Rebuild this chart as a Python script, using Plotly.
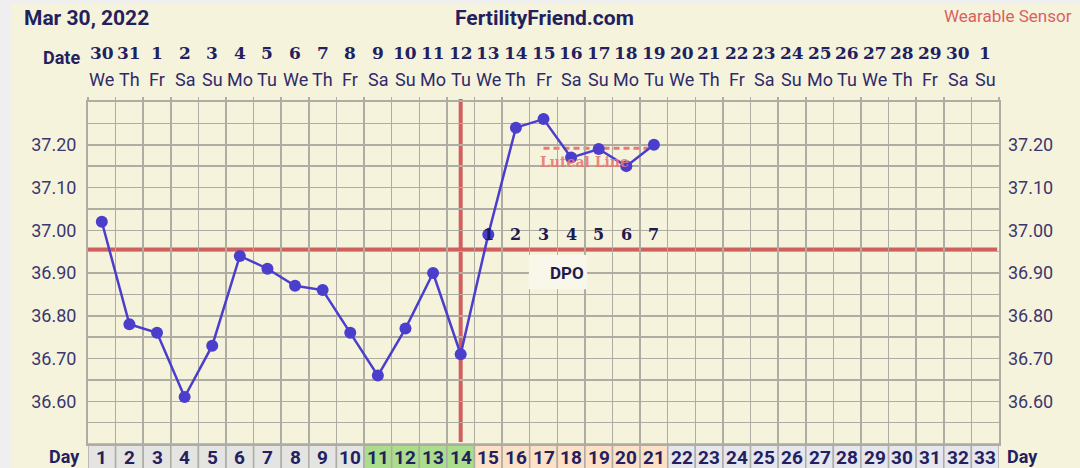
import plotly.graph_objects as go

# ---------------- data ----------------
chart_date = "Mar 30, 2022"
site_title = "FertilityFriend.com"
sensor_label = "Wearable Sensor"

cycle_days = list(range(1, 34))
date_numbers = [30, 31] + list(range(1, 31)) + [1]
weekday_cycle = ["We", "Th", "Fr", "Sa", "Su", "Mo", "Tu"]
weekdays = [weekday_cycle[i % 7] for i in range(33)]

temp_days = list(range(1, 22))
temps = [37.02, 36.78, 36.76, 36.61, 36.73, 36.94, 36.91, 36.87, 36.86, 36.76,
         36.66, 36.77, 36.90, 36.71, 36.99, 37.24, 37.26, 37.17, 37.19, 37.15, 37.20]

coverline_temp = 36.955
ovulation_day = 14
dpo_days = [15, 16, 17, 18, 19, 20, 21]
dpo_labels = ["1", "2", "3", "4", "5", "6", "7"]
luteal_start, luteal_end, luteal_temp = 17, 20.8, 37.192

phase_fertile = [11, 12, 13, 14]
phase_luteal = [15, 16, 17, 18, 19, 20, 21]

ytick_vals = [36.60, 36.70, 36.80, 36.90, 37.00, 37.10, 37.20]
ytick_text = [f"{v:.2f}" for v in ytick_vals]
y_range = [36.5, 37.3]

# ---------------- styling ----------------
W, H = 1080, 468
L, R, T, B = 88, 81, 102, 24
PW, PH = W - L - R, H - T - B
CREAM = "#f6f3dd"
NAVY = "#241f5e"
TICKNAVY = "#3b376d"
GRID = "#aeaca3"
RED = "#d0605e"
LINE = "#4b3ecd"
SANS = "Roboto"
SERIF = "DejaVu Serif"


def px_x(X):
    return (X - L) / PW


def px_y(Y):
    return (H - B - Y) / PH


fig = go.Figure()

fig.add_trace(go.Scatter(
    x=temp_days, y=temps, mode="lines+markers",
    line=dict(color=LINE, width=2.5),
    marker=dict(color=LINE, size=12),
    hoverinfo="skip", showlegend=False, cliponaxis=False,
))
# invisible trace to activate the mirrored axes (right labels, top ticks)
fig.add_trace(go.Scatter(
    x=temp_days, y=temps, xaxis="x2", yaxis="y2", mode="markers",
    marker=dict(opacity=0), hoverinfo="skip", showlegend=False,
))

shapes = []
# cream panel
shapes.append(dict(type="rect", xref="paper", yref="paper",
                   x0=px_x(12), x1=px_x(W + 20), y0=px_y(H + 20), y1=px_y(3),
                   fillcolor=CREAM, line=dict(width=0), layer="below"))

# day row cells
for d in cycle_days:
    if d in phase_fertile:
        col = "#aadd8c"
    elif d in phase_luteal:
        col = "#fde1c7"
    elif d > max(phase_luteal):
        col = "#e6e6ee"
    else:
        col = "#e4e4e2"
    shapes.append(dict(type="rect", xref="x", yref="paper",
                       x0=d - 0.5, x1=d + 0.5, y0=px_y(H + 10), y1=0,
                       fillcolor=col, line=dict(color=GRID, width=1.5), layer="below"))

# coverline
shapes.append(dict(type="line", xref="paper", yref="y", x0=0, x1=0.998,
                   y0=coverline_temp, y1=coverline_temp,
                   line=dict(color=RED, width=4), layer="below"))
# ovulation line
shapes.append(dict(type="line", xref="x", yref="paper", x0=ovulation_day, x1=ovulation_day,
                   y0=px_y(442), y1=px_y(99),
                   line=dict(color=RED, width=4), layer="below"))
# luteal line
shapes.append(dict(type="line", xref="x", yref="y", x0=luteal_start, x1=luteal_end,
                   y0=luteal_temp, y1=luteal_temp,
                   line=dict(color="#e77a74", width=3, dash="6px,4px"), layer="below"))
# DPO box
shapes.append(dict(type="rect", xref="x", yref="y", x0=16.47, x1=18.58,
                   y0=36.862, y1=36.942, fillcolor="#f9f7e9",
                   line=dict(width=0), layer="above"))

ann = []
# header
ann.append(dict(text=f"<b>{chart_date}</b>", xref="paper", yref="paper",
                x=px_x(22), y=px_y(18), xanchor="left", yanchor="middle",
                showarrow=False, font=dict(family=SANS, size=21, color=NAVY)))
ann.append(dict(text=f"<b>{site_title}</b>", xref="paper", yref="paper",
                x=px_x(544), y=px_y(18), xanchor="center", yanchor="middle",
                showarrow=False, font=dict(family=SANS, size=21, color=NAVY)))
ann.append(dict(text=sensor_label, xref="paper", yref="paper",
                x=px_x(1074), y=px_y(16), xanchor="right", yanchor="middle",
                showarrow=False, font=dict(family=SANS, size=17, color="#d8625f")))
ann.append(dict(text="<b>Date</b>", xref="paper", yref="paper",
                x=px_x(82), y=px_y(58), xanchor="right", yanchor="middle",
                showarrow=False, font=dict(family=SANS, size=18, color=NAVY)))
ann.append(dict(text="<b>Day</b>", xref="paper", yref="paper",
                x=px_x(82), y=px_y(456), xanchor="right", yanchor="middle",
                showarrow=False, font=dict(family=SANS, size=18, color=NAVY)))
ann.append(dict(text="<b>Day</b>", xref="paper", yref="paper",
                x=px_x(1005), y=px_y(456), xanchor="left", yanchor="middle",
                showarrow=False, font=dict(family=SANS, size=18, color=NAVY)))

for d, dn, wd in zip(cycle_days, date_numbers, weekdays):
    ann.append(dict(text=f"<b>{dn}</b>", xref="x", yref="paper", x=d, y=px_y(53),
                    xanchor="center", yanchor="middle", showarrow=False,
                    font=dict(family=SERIF, size=17, color=NAVY)))
    ann.append(dict(text=wd, xref="x", yref="paper", x=d, y=px_y(80),
                    xanchor="center", yanchor="middle", showarrow=False,
                    font=dict(family=SANS, size=18, color="#2f2a6a")))
    ann.append(dict(text=f"<b>{d}</b>", xref="x", yref="paper", x=d, y=px_y(457),
                    xanchor="center", yanchor="middle", showarrow=False,
                    font=dict(family=SANS, size=19, color=NAVY)))

for d, lab in zip(dpo_days, dpo_labels):
    ann.append(dict(text=f"<b>{lab}</b>", xref="x", yref="y", x=d, y=36.99,
                    xanchor="center", yanchor="middle", showarrow=False,
                    font=dict(family=SERIF, size=16, color="#1e1a50")))
ann.append(dict(text="<b>DPO</b>", xref="x", yref="y", x=17.85, y=36.9,
                xanchor="center", yanchor="middle", showarrow=False,
                font=dict(family=SANS, size=17, color="#1e1a50")))
ann.append(dict(text="<b>Luteal Line</b>", xref="x", yref="y", x=18.5, y=37.16,
                xanchor="center", yanchor="middle", showarrow=False,
                font=dict(family=SERIF, size=14, color="rgba(230,120,115,0.9)")))

grid_x = [d - 0.5 for d in cycle_days] + [cycle_days[-1] + 0.5]

fig.update_layout(
    width=W, height=H,
    margin=dict(l=L, r=R, t=T, b=B, pad=0),
    paper_bgcolor="#efefef", plot_bgcolor="rgba(0,0,0,0)",
    showlegend=False,
    shapes=shapes, annotations=ann,
    xaxis=dict(range=[0.5, 33.5], tickvals=grid_x, showticklabels=False,
               showgrid=True, gridcolor=GRID, gridwidth=1.5, zeroline=False,
               showline=True, linecolor=GRID, linewidth=2, mirror=True, ticks=""),
    xaxis2=dict(range=[0.5, 33.5], overlaying="x", side="top", tickvals=grid_x,
                showticklabels=False, showgrid=False, zeroline=False,
                ticks="outside", ticklen=4, tickcolor=GRID, tickwidth=1.5),
    yaxis=dict(range=y_range, tickvals=ytick_vals, ticktext=ytick_text,
               showgrid=True, gridcolor=GRID, gridwidth=1.5, zeroline=False,
               minor=dict(dtick=0.05, tick0=36.5, showgrid=True, gridcolor=GRID, gridwidth=1.5),
               showline=True, linecolor=GRID, linewidth=2, mirror=True, ticks="",
               ticklabelstandoff=6,
               tickfont=dict(family=SANS, size=18, color=TICKNAVY)),
    yaxis2=dict(range=y_range, tickvals=ytick_vals, ticktext=ytick_text,
                overlaying="y", side="right", showgrid=False, zeroline=False,
                ticks="", ticklabelstandoff=8,
                tickfont=dict(family=SANS, size=18, color=TICKNAVY)),
)

fig.write_html(
    "out.html",
    config={"displayModeBar": False, "staticPlot": True},
    post_script="document.body.style.margin='0';document.body.style.background='#efefef';",
)
